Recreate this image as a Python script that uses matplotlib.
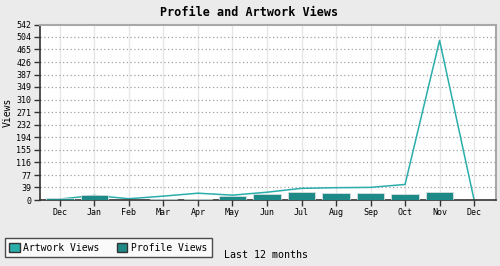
import matplotlib
matplotlib.use("Agg")
import matplotlib.pyplot as plt
from matplotlib.patches import Patch
import numpy as np

months = ['Dec', 'Jan', 'Feb', 'Mar', 'Apr', 'May', 'Jun', 'Jul', 'Aug', 'Sep', 'Oct', 'Nov', 'Dec']
artwork_views = [3, 14, 4, 12, 21, 15, 24, 36, 38, 39, 48, 493, 0]
profile_views = [7, 16, 0, 3, 4, 11, 19, 26, 23, 21, 17, 24]
ytick_values = [0, 39, 77, 116, 155, 194, 232, 271, 310, 349, 387, 426, 465, 504, 542]

line_color = '#2aaeab'
bar_color = '#1e8a87'
bg = '#ebebeb'
mono = 'DejaVu Sans Mono'

fig = plt.figure(figsize=(5.0, 2.66), dpi=100, facecolor=bg)
ax = fig.add_axes([39.5 / 500, 1 - 200 / 266, (495.5 - 39.5) / 500, (200 - 24.5) / 266])
ax.set_facecolor('white')

x = np.arange(len(months))
ax.plot(x, artwork_views, color=line_color, lw=1.1, zorder=2)
ax.bar(x[:len(profile_views)], profile_views, width=0.79, color=bar_color,
       edgecolor='#e4e4e4', linewidth=0.5, zorder=3)

ax.set_xlim(-0.59, 12.62)
ax.set_ylim(0, 542)
ax.set_xticks(x)
ax.set_xticklabels(months, family=mono, fontsize=6)
ax.set_yticks(ytick_values)
ax.set_yticklabels([str(v) for v in ytick_values], family=mono, fontsize=6)
ax.tick_params(axis='both', direction='out', length=4, width=1, color='#333333', pad=2)

for v in ytick_values[1:-1]:
    ax.axhline(v, color='#a0a0a0', lw=0.9, ls=(0, (1, 2)), zorder=1)
for xi in x:
    ax.axvline(xi, color='#e6e6e6', lw=1, zorder=0.5)

for s in ['left', 'bottom']:
    ax.spines[s].set_color('#333333')
    ax.spines[s].set_linewidth(1.2)
for s in ['top', 'right']:
    ax.spines[s].set_color('#a8a8a8')
    ax.spines[s].set_linewidth(1.5)

ax.set_ylabel('Views', family=mono, fontsize=7, labelpad=2)
ax.yaxis.set_label_coords(-0.058, 0.5)
fig.text(0.498, 1 - 12 / 266, 'Profile and Artwork Views', family=mono, fontsize=8.5,
         fontweight='bold', ha='center', va='center')

handles = [Patch(facecolor=line_color, edgecolor='#333333', linewidth=1),
           Patch(facecolor=bar_color, edgecolor='#333333', linewidth=1)]
leg = fig.legend(handles, ['Artwork Views', 'Profile Views'], loc='lower left',
                 bbox_to_anchor=(5 / 500, 1 - 257 / 266), ncol=2, frameon=True,
                 fancybox=False, prop={'family': mono, 'size': 7},
                 handlelength=1.05, handleheight=1.1, handletextpad=0.4,
                 columnspacing=1.75, borderpad=0.45, borderaxespad=0)
leg.get_frame().set_edgecolor('#222222')
leg.get_frame().set_linewidth(1)
leg.get_frame().set_facecolor('white')

fig.text(224 / 500, 1 - 255 / 266, 'Last 12 months', family=mono, fontsize=7.2,
         ha='left', va='center')

fig.savefig('out.png', dpi=100, facecolor=bg)
